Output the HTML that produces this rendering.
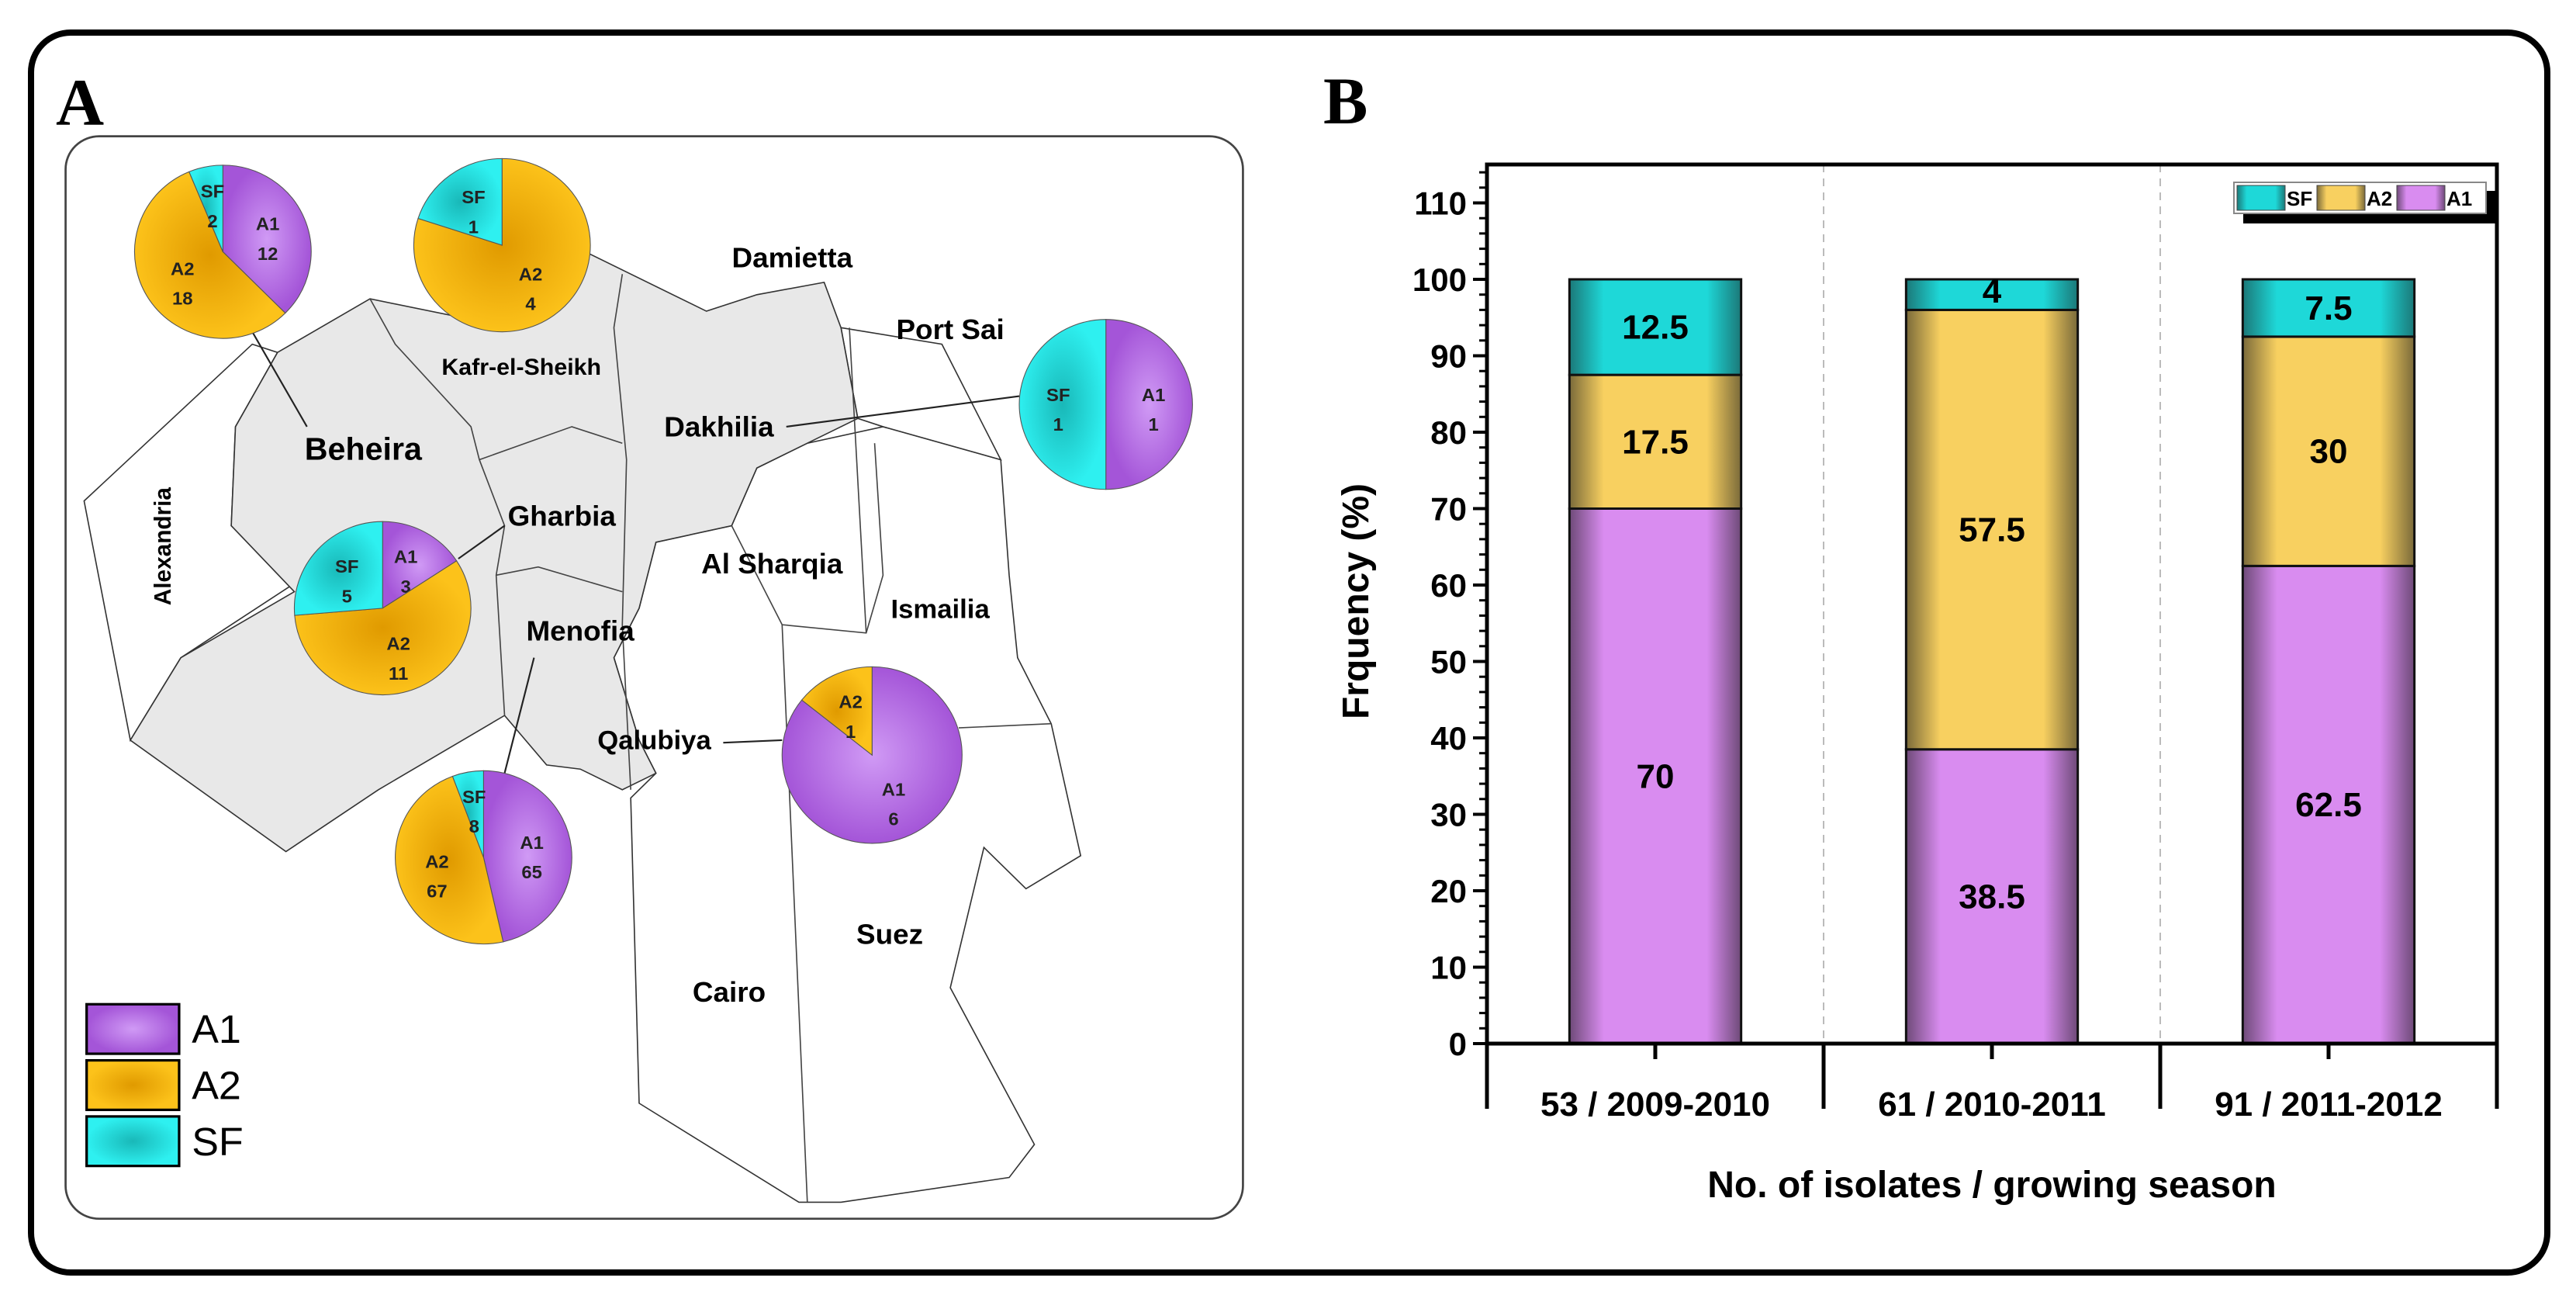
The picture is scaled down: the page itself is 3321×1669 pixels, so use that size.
<!DOCTYPE html>
<html><head><meta charset="utf-8"><style>
html,body{margin:0;padding:0;background:#fff;}
body{width:3321px;height:1669px;position:relative;overflow:hidden;font-family:"Liberation Sans",Arial,sans-serif;}
svg{position:absolute;left:0;top:0;}
</style></head><body>
<div style="position:absolute;left:36px;top:38px;width:3236px;height:1590px;border:8px solid #000;border-radius:55px;"></div>
<div style="position:absolute;left:72px;top:82px;font:bold 86px 'Liberation Serif',serif;">A</div>
<div style="position:absolute;left:1706px;top:80px;font:bold 86px 'Liberation Serif',serif;">B</div>

<svg style="top:-3px" width="1700" height="1637" viewBox="0 0 1568 1539.5" preserveAspectRatio="none">
<defs>
<radialGradient id="gA1"><stop offset="0" stop-color="#d09af5"/><stop offset="1" stop-color="#a455d8"/></radialGradient>
<radialGradient id="gA2"><stop offset="0" stop-color="#e09a00"/><stop offset="1" stop-color="#fcc21a"/></radialGradient>
<radialGradient id="gSF"><stop offset="0" stop-color="#19b8b8"/><stop offset="1" stop-color="#2ef0f0"/></radialGradient>
</defs>
<rect x="78" y="168" width="1400" height="1312" rx="40" fill="#fff" stroke="#444" stroke-width="2.5"/>
<polygon points="100,610 300,420 330,430 280,520 275,640 350,710 215,800 155,900" fill="#fff" stroke="#333" stroke-width="1.5"/>
<polygon points="870,640 900,570 960,540 1050,520 1190,560 1200,700 1210,800 1250,880 1285,1040 1220,1080 1170,1030 1130,1200 1230,1390 1200,1430 1000,1460 950,1460 760,1340 750,970 780,940 760,900 730,800 760,740 780,660" fill="#fff" stroke="#333" stroke-width="1.5"/>
<polygon points="1000,400 1120,420 1190,560 1050,520 1020,510" fill="#fff" stroke="#333" stroke-width="1.5"/>
<polygon points="280,520 330,430 440,365 560,390 700,310 840,380 900,360 980,345 1000,400 1020,510 960,540 900,570 870,640 780,660 760,740 730,800 760,900 780,940 740,960 690,935 650,930 600,870 450,960 340,1035 155,900 215,800 350,720 275,640" fill="#e8e8e8" stroke="#333" stroke-width="1.5"/>
<g fill="none" stroke="#444" stroke-width="1.5">
<polyline points="440,365 470,420 560,520 570,560 600,640 590,700 600,870"/>
<polyline points="740,335 730,400 745,560 740,760 750,960"/>
<polyline points="570,560 680,520 740,540"/>
<polyline points="590,700 640,690 740,720"/>
<polyline points="870,640 930,760 1030,770 1050,700 1040,540"/>
<polyline points="930,760 960,1460"/>
<polyline points="1140,885 1250,880"/>
<polyline points="1010,400 1030,770"/>
</g>
<g fill="#000" font-weight="bold" font-family="Liberation Sans, sans-serif" text-anchor="middle">
<text x="942" y="327" font-size="34">Damietta</text>
<text x="1130" y="414" font-size="34">Port Sai</text>
<text x="620" y="457" font-size="28">Kafr-el-Sheikh</text>
<text x="855" y="532" font-size="34">Dakhilia</text>
<text x="432" y="560" font-size="38">Beheira</text>
<text x="668" y="640" font-size="34">Gharbia</text>
<text x="918" y="698" font-size="34">Al Sharqia</text>
<text x="1118" y="752" font-size="32">Ismailia</text>
<text x="690" y="779" font-size="34">Menofia</text>
<text x="778" y="911" font-size="32">Qalubiya</text>
<text x="1058" y="1147" font-size="34">Suez</text>
<text x="867" y="1217" font-size="34">Cairo</text>
<text x="213" y="675" font-size="28" transform="rotate(-90 203 675)">Alexandria</text>
</g>
<g stroke="#222" stroke-width="2">
<line x1="300" y1="405" x2="365" y2="520"/><line x1="935" y1="520" x2="1212" y2="483"/>
<line x1="545" y1="680" x2="600" y2="640"/><line x1="635" y1="800" x2="600" y2="940"/>
<line x1="860" y1="903" x2="930" y2="900"/>
</g>
<g id="pies"></g>
<g>
<rect x="103" y="1220" width="110" height="60" fill="url(#gA1)" stroke="#000" stroke-width="3"/>
<rect x="103" y="1288" width="110" height="60" fill="url(#gA2)" stroke="#000" stroke-width="3"/>
<rect x="103" y="1356" width="110" height="60" fill="url(#gSF)" stroke="#000" stroke-width="3"/>
<text x="228" y="1267" font-size="48" font-family="Liberation Sans, sans-serif">A1</text>
<text x="228" y="1335" font-size="48" font-family="Liberation Sans, sans-serif">A2</text>
<text x="228" y="1403" font-size="48" font-family="Liberation Sans, sans-serif">SF</text>
</g>
</svg>

<svg id="chart" width="3321" height="1669"></svg>

<script>
// ---- Pie data (panel A) ----
const pieNames = ["beheira","kafr-el-sheikh","dakhilia","gharbia","menofia","qalubiya"];
const pieA1 = [12, 0, 1, 3, 65, 6];
const pieA2 = [18, 4, 0, 11, 67, 1];
const pieSF = [2, 1, 1, 5, 8, 0];
const pieCx = [265, 597, 1315, 455, 575, 1037];
const pieCy = [308, 300, 493, 740, 1042, 918];
const pieR = [105, 105, 103, 105, 105, 107];

const NS = "http://www.w3.org/2000/svg";
const pg = document.getElementById("pies");
function mk(tag, attrs, parent){const e=document.createElementNS(NS,tag);for(const k in attrs)e.setAttribute(k,attrs[k]);parent.appendChild(e);return e;}
pieNames.forEach((nm,i)=>{
  const vals=[pieA1[i],pieA2[i],pieSF[i]], keys=["a1","a2","sf"], fills=["url(#gA1)","url(#gA2)","url(#gSF)"], labs=["A1","A2","SF"];
  const tot=vals.reduce((a,b)=>a+b,0); let a0=0;
  const cx=pieCx[i], cy=pieCy[i], r=pieR[i];
  vals.forEach((v,j)=>{
    if(v<=0) return;
    const a1=a0+v/tot*2*Math.PI;
    let el;
    if(v===tot){ el=mk("circle",{cx:cx,cy:cy,r:r,fill:fills[j],stroke:"#555","stroke-width":1},pg); }
    else{
      const x0=cx+r*Math.sin(a0), y0=cy-r*Math.cos(a0), x1=cx+r*Math.sin(a1), y1=cy-r*Math.cos(a1);
      const large=(a1-a0)>Math.PI?1:0;
      el=mk("path",{d:`M${cx},${cy} L${x0},${y0} A${r},${r} 0 ${large} 1 ${x1},${y1} Z`,fill:fills[j],stroke:"#555","stroke-width":1},pg);
    }
    
    
    const am=(a0+a1)/2, lr=(v/tot<0.1)?r*0.6:r*0.55;
    const lx=cx+lr*Math.sin(am), ly=cy-lr*Math.cos(am);
    const t=mk("text",{x:lx,y:ly-4,"text-anchor":"middle","font-size":22,"font-weight":"bold","font-family":"Liberation Sans, sans-serif",fill:"#222"},pg);
    t.textContent=labs[j];
    
    
    const t2=mk("text",{x:lx,y:ly+32,"text-anchor":"middle","font-size":22,"font-weight":"bold","font-family":"Liberation Sans, sans-serif",fill:"#222"},pg);
    t2.textContent=String(v);
    
    
    a0=a1;
  });
});

// ---- Bar data (panel B) ----
const categories = ["53 / 2009-2010","61 / 2010-2011","91 / 2011-2012"];
const valA1 = [70, 38.5, 62.5];
const valA2 = [17.5, 57.5, 30];
const valSF = [12.5, 4, 7.5];
const yTicks = [0,10,20,30,40,50,60,70,80,90,100,110];

const svg=document.getElementById("chart");
const X0=1917, X1=3219, Y0=1345, YT=212;
const yPer=(1345-360)/100;
const y=v=>Y0-v*yPer;
const catW=(X1-X0)/categories.length;
const xc=i=>X0+catW*(i+0.5);
const barW=catW*0.51;
const defs=mk("defs",{},svg);
function grad(id,mid,edge){const g=mk("linearGradient",{id:id,x1:0,x2:1,y1:0,y2:0},defs);
  mk("stop",{offset:0,"stop-color":edge},g);mk("stop",{offset:0.2,"stop-color":mid},g);mk("stop",{offset:0.8,"stop-color":mid},g);mk("stop",{offset:1,"stop-color":edge},g);}
grad("bA1","#d98cf0","#6e4a78");grad("bA2","#f8d060","#7a6a3a");grad("bSF","#1ed8d8","#1b7878");

for(let i=1;i<categories.length;i++){
  const l=mk("line",{x1:X0+catW*i,x2:X0+catW*i,y1:YT,y2:Y0,stroke:"#bbb","stroke-width":2,"stroke-dasharray":"10,8"},svg);
  
  
}
const series=[["a1",valA1,"url(#bA1)"],["a2",valA2,"url(#bA2)"],["sf",valSF,"url(#bSF)"]];
categories.forEach((c,i)=>{
  let base=0;
  series.forEach(([k,arr,f])=>{
    const v=arr[i];
    const r=mk("rect",{x:xc(i)-barW/2,y:y(base+v),width:barW,height:v*yPer,fill:f,stroke:"#111","stroke-width":3},svg);
    
    
    const ty = v<6 ? y(base+v)+30 : y(base+v/2)+15;
    const t=mk("text",{x:xc(i),y:ty,"text-anchor":"middle","font-size":44,"font-weight":"bold","font-family":"Liberation Sans, sans-serif"},svg);
    t.textContent=String(v);
    
    
    base+=v;
  });
});
const fr=mk("polyline",{points:`${X0},${Y0} ${X0},${YT} ${X1},${YT} ${X1},${Y0}`,fill:"none",stroke:"#000","stroke-width":5},svg);


const xa=mk("line",{x1:X0,x2:X1,y1:Y0,y2:Y0,stroke:"#000","stroke-width":5},svg);


for(let v=0;v<=114;v+=2){
  const major=v%10===0;
  const l=mk("line",{x1:X0-(major?18:10),x2:X0,y1:y(v),y2:y(v),stroke:"#000","stroke-width":major?4:3},svg);
  
  
}
yTicks.forEach(v=>{
  const t=mk("text",{x:X0-26,y:y(v)+15,"text-anchor":"end","font-size":42,"font-weight":"bold","font-family":"Liberation Sans, sans-serif"},svg);
  t.textContent=String(v);
  
  
});
for(let i=0;i<=categories.length;i++){
  const l=mk("line",{x1:X0+catW*i,x2:X0+catW*i,y1:Y0,y2:Y0+84,stroke:"#000","stroke-width":5},svg);
  
  
}
categories.forEach((c,i)=>{
  const l=mk("line",{x1:xc(i),x2:xc(i),y1:Y0,y2:Y0+20,stroke:"#000","stroke-width":5},svg);
  
  
  const t=mk("text",{x:xc(i),y:1438,"text-anchor":"middle","font-size":44,"font-weight":"bold","font-family":"Liberation Sans, sans-serif"},svg);
  t.textContent=c;
  
  
});
const xt=mk("text",{x:(X0+X1)/2,y:1543,"text-anchor":"middle","font-size":48,"font-weight":"bold","font-family":"Liberation Sans, sans-serif"},svg);
xt.textContent="No. of isolates / growing season";


const yt=mk("text",{x:0,y:0,"text-anchor":"middle","font-size":48,"font-weight":"bold","font-family":"Liberation Sans, sans-serif",transform:"translate(1764,775) rotate(-90)"},svg);
yt.textContent="Frquency (%)";


const lg=mk("g",{},svg);


mk("rect",{x:2892,y:246,width:325,height:42,fill:"#000"},lg);
mk("rect",{x:2880,y:235,width:325,height:40,fill:"#fff",stroke:"#888","stroke-width":2},lg);
const legItems=[["SF","url(#bSF)",2884],["A2","url(#bA2)",2987],["A1","url(#bA1)",3090]];
legItems.forEach(([n,f,x])=>{
  const r=mk("rect",{x:x,y:239,width:62,height:32,fill:f,stroke:"#444","stroke-width":1},lg);
  
  
  const t=mk("text",{x:x+64,y:265,"font-size":26,"font-weight":"bold","font-family":"Liberation Sans, sans-serif"},lg);
  t.textContent=n;
  
  
});
</script>
</body></html>
